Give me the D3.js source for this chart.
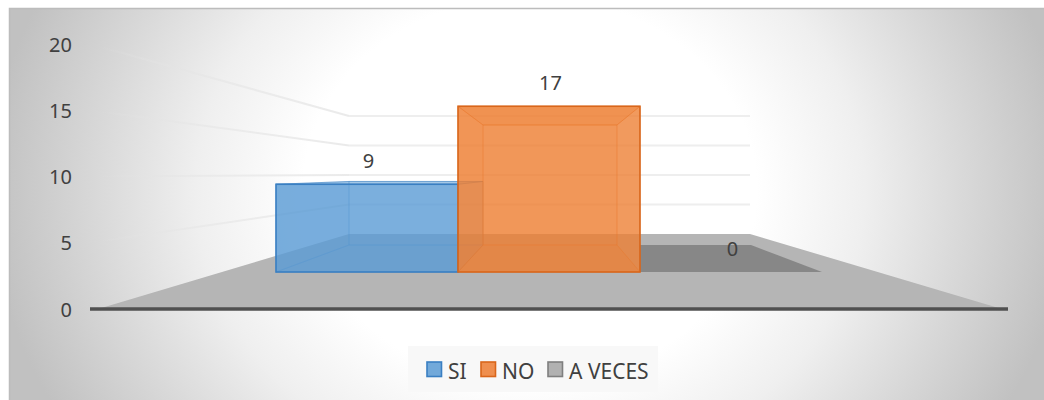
<!DOCTYPE html>
<html><head><meta charset="utf-8">
<script src="https://cdn.jsdelivr.net/npm/d3@7"></script>
<style>html,body{margin:0;padding:0;background:#fff}svg{display:block}text{font-family:"Noto Sans",sans-serif;fill:#404040}</style>
</head><body><div id="c"></div>
<script>
const categories=["SI","NO","A VECES"];
const values=[9,17,0];
const colors=["#5b9bd5","#ed7d31","#a5a5a5"];
const edges=["#3a7fc2","#d9661b","#7f7f7f"];
const yTicks=[0,5,10,15,20];

const W=1044,H=400;
const svg=d3.select("#c").append("svg").attr("width",W).attr("height",H);
const defs=svg.append("defs");
const bg=defs.append("radialGradient").attr("id","bg").attr("gradientUnits","userSpaceOnUse")
  .attr("cx",0).attr("cy",0).attr("r",1).attr("gradientTransform","translate(530,190) scale(540,460)");
[[0,"#ffffff"],[0.42,"#ffffff"],[0.62,"#efefef"],[0.8,"#d9d9d9"],[1,"#c1c1c1"]].forEach(s=>bg.append("stop").attr("offset",s[0]).attr("stop-color",s[1]));
defs.append("filter").attr("id","soft").append("feGaussianBlur").attr("stdDeviation",0.6);
const gl=defs.append("linearGradient").attr("id","gl").attr("gradientUnits","userSpaceOnUse").attr("x1",100).attr("x2",349).attr("y1",0).attr("y2",0);
[[0,"#e4e4e4",0],[0.25,"#e4e4e4",0.45],[1,"#e8e8e8",0.9]].forEach(s=>gl.append("stop").attr("offset",s[0]).attr("stop-color",s[1]).attr("stop-opacity",s[2]));

// depth planes of the 3-D box
const yAxisPlane=d3.scaleLinear().domain([0,20]).range([309,44]);
const yWall=d3.scaleLinear().domain([0,20]).range([234,116]);
const yBarFront=d3.scaleLinear().domain([0,20]).range([272,77]);
const yBarBack=d3.scaleLinear().domain([0,20]).range([245,103.8]);
const xBarFront=d3.scaleLinear().domain([0,3]).range([276,822]);
const xBarBack=d3.scaleLinear().domain([0,3]).range([349,751]);
const xWall=d3.scaleLinear().domain([0,1]).range([349,750]);
const xFloorFront=d3.scaleLinear().domain([0,1]).range([98,1002]);
const pts=a=>a.map(p=>p.join(",")).join(" ");

// background + border
svg.append("rect").attr("x",9).attr("y",8).attr("width",W-9).attr("height",H-8).attr("fill","url(#bg)");
svg.append("path").attr("d",`M9.5,${H}V8.5H${W}`).attr("fill","none").attr("stroke","#bcbcbc").attr("stroke-width",1.5);

// floor
svg.append("polygon").attr("fill","#b5b5b5").attr("filter","url(#soft)")
  .attr("points",pts([[xFloorFront(0),yAxisPlane(0)],[xWall(0),yWall(0)],[xWall(1),yWall(0)],[xFloorFront(1),yAxisPlane(0)]]));

// gridlines: side wall and back wall
const grid=svg.append("g").attr("fill","none").attr("stroke-width",2);
yTicks.filter(t=>t>0).forEach(t=>{
  grid.append("line").attr("x1",90).attr("y1",yAxisPlane(t)).attr("x2",xWall(0)).attr("y2",yWall(t)).attr("stroke","url(#gl)");
  grid.append("line").attr("x1",xWall(0)).attr("y1",yWall(t)).attr("x2",xWall(1)).attr("y2",yWall(t)).attr("stroke","#eeeeee");
});

// axis line
svg.append("line").attr("x1",90).attr("x2",1008).attr("y1",yAxisPlane(0)).attr("y2",yAxisPlane(0))
  .attr("stroke","#505050").attr("stroke-width",3.4);

// tick labels
svg.append("g").selectAll("text").data(yTicks).join("text")
  .attr("x",72).attr("y",d=>yAxisPlane(d)+7.5).attr("text-anchor","end").attr("font-size",20).text(d=>d);

// bars: empty ones lie on the floor and are painted first
const order=d3.range(categories.length).sort((a,b)=>d3.ascending(values[a]>0,values[b]>0)||a-b);
order.forEach(i=>{
  const v=values[i],col=colors[i],edge=edges[i];
  const fl=xBarFront(i),fr=xBarFront(i+1),bl=xBarBack(i),br=xBarBack(i+1);
  const f0=yBarFront(0),ft=yBarFront(v),b0=yBarBack(0),bt=yBarBack(v);
  const g=svg.append("g");
  if(v===0){
    g.append("polygon").attr("points",pts([[fl,f0],[fr,f0],[br,b0],[fl,b0]])).attr("fill","#878787");
    return;
  }
  const face=(p,o,strokeO)=>g.append("polygon").attr("points",pts(p)).attr("fill",col).attr("fill-opacity",o)
      .attr("stroke",edge).attr("stroke-opacity",strokeO).attr("stroke-width",1);
  face([[bl,b0],[br,b0],[br,bt],[bl,bt]],0.25,0.3);
  face([[fl,f0],[fr,f0],[br,b0],[bl,b0]],0.3,0.25);
  face([[fl,f0],[bl,b0],[bl,bt],[fl,ft]],0.3,0.25);
  face([[fr,f0],[br,b0],[br,bt],[fr,ft]],0.15,0.25);
  face([[fl,ft],[fr,ft],[br,bt],[bl,bt]],0.4,0.5);
  g.append("rect").attr("x",fl).attr("y",ft).attr("width",fr-fl).attr("height",f0-ft)
    .attr("fill",col).attr("fill-opacity",0.74).attr("stroke",edge).attr("stroke-width",1.6);
});

// data labels
svg.append("g").selectAll("text").data(values).join("text")
  .attr("x",(d,i)=>(xBarFront(i)+xBarFront(i+1))/2+1.5).attr("y",d=>yBarFront(d)-16.5)
  .attr("text-anchor","middle").attr("font-size",20).text(d=>d);

// legend
svg.append("rect").attr("x",408).attr("y",346).attr("width",250).attr("height",46).attr("fill","#f8f8f8");
const legendX=d3.scaleOrdinal().domain(categories).range([427,481,548]);
const lg=svg.append("g").selectAll("g").data(categories).join("g").attr("transform",d=>`translate(${legendX(d)},362)`);
lg.append("rect").attr("width",14.5).attr("height",14.5).attr("fill",(d,i)=>colors[i]).attr("fill-opacity",.85)
  .attr("stroke",(d,i)=>edges[i]).attr("stroke-width",1.6);
lg.append("text").attr("x",21).attr("y",17).attr("font-size",21).text(d=>d);
</script></body></html>
